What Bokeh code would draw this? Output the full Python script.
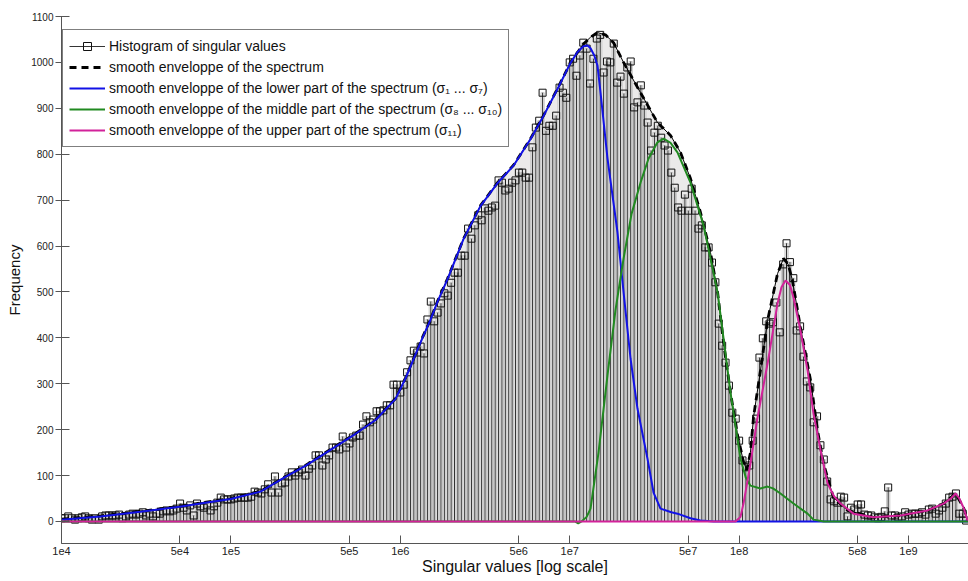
import numpy as np
from bokeh.plotting import figure
from bokeh.models import Range1d, FixedTicker, Legend, LegendItem
from bokeh.embed import file_html
from bokeh.resources import INLINE

# ---------------- data ----------------
# histogram bins: equally spaced in log10, first bin centred on 1e4
bin_first_log10 = 4.0
bins_per_decade = 50
hist_counts = [
    7, 7, 11, 7, 4, 7, 9, 11, 7, 4,
    7, 4, 11, 13, 13, 13, 13, 15, 7, 11,
    15, 17, 15, 17, 20, 13, 17, 11, 17, 17,
    22, 24, 22, 24, 28, 39, 30, 24, 35, 13,
    39, 33, 30, 35, 24, 33, 41, 52, 48, 48,
    48, 50, 52, 52, 52, 52, 54, 65, 63, 61,
    70, 81, 63, 98, 63, 83, 85, 98, 107, 100,
    107, 113, 100, 115, 122, 144, 144, 122, 135, 144,
    161, 161, 157, 185, 161, 170, 183, 187, 187, 211,
    229, 216, 222, 240, 240, 242, 253, 253, 298, 298,
    281, 298, 325, 351, 372, 368, 381, 366, 440, 479,
    436, 455, 475, 497, 492, 520, 542, 542, 579, 579,
    638, 616, 645, 667, 656, 682, 677, 684, 688, 743,
    738, 721, 725, 738, 743, 760, 760, 749, 749, 815,
    858, 873, 934, 851, 862, 862, 884, 945, 934, 923,
    1000, 1008, 971, 1015, 1043, 1030, 954, 1008, 1052, 1060,
    978, 1002, 1000, 1041, 956, 969, 932, 989, 1002, 902,
    913, 950, 906, 869, 808, 847, 862, 836, 819, 808,
    760, 727, 684, 677, 712, 677, 725, 677, 638, 645,
    597, 597, 564, 521, 431, 383, 346, 296, 237, 224,
    176, 133, 118, 122, 176, 224, 357, 399, 436, 431,
    434, 477, 412, 560, 606, 565, 530, 416, 425, 359,
    305, 292, 216, 229, 166, 135, 87, 48, 44, 41,
    54, 52, 11, 30, 26, 37, 37, 15, 13, 13,
    9, 7, 10, 22, 74, 13, 13, 9, 11, 20,
    15, 17, 17, 17, 20, 15, 26, 28, 17, 24,
    30, 39, 52, 54, 61, 17, 17, 2,
]

# smooth envelope of the whole spectrum (x given as log10 of singular value)
env_log10 = [4.0, 4.23, 4.466, 4.697, 4.82, 4.998, 5.175, 5.322, 5.44, 5.588,
             5.736, 5.854, 5.972, 6.031, 6.131, 6.178, 6.22, 6.279, 6.373, 6.473,
             6.574, 6.668, 6.769, 6.845, 6.928, 7.005, 7.081, 7.123, 7.164, 7.211,
             7.259, 7.318, 7.418, 7.518, 7.595, 7.654, 7.713, 7.772, 7.831, 7.873,
             7.908, 7.949, 7.991, 8.026, 8.045, 8.067, 8.085, 8.126, 8.168, 8.227,
             8.262, 8.29, 8.315, 8.362, 8.422, 8.463, 8.498, 8.557, 8.64, 8.793,
             8.953, 9.112, 9.207, 9.278, 9.325, 9.348]
env_vals = [5, 12, 22, 33, 40, 50, 66, 98, 122, 157,
            192, 222, 268, 313, 401, 440, 480, 529, 616, 688,
            738, 776, 834, 884, 943, 1000, 1040, 1055, 1065, 1060,
            1043, 1000, 934, 869, 841, 804, 747, 673, 586, 499,
            390, 281, 187, 130, 112, 150, 227, 329, 438, 540,
            573, 560, 525, 423, 307, 198, 126, 52, 24, 9,
            13, 24, 39, 61, 30, 2]

# lower part of the spectrum (sigma_1 ... sigma_7)
low_log10 = [4.0, 4.23, 4.466, 4.697, 4.82, 4.998, 5.175, 5.322, 5.44, 5.588,
             5.736, 5.854, 5.972, 6.031, 6.131, 6.178, 6.22, 6.279, 6.373, 6.473,
             6.574, 6.668, 6.769, 6.845, 6.928, 7.005, 7.045, 7.081, 7.105, 7.123,
             7.145, 7.164, 7.182, 7.223, 7.282, 7.318, 7.359, 7.4, 7.459, 7.495,
             7.536, 7.6, 7.636, 7.713, 7.772, 7.85, 9.36]
low_vals = [4, 11, 21, 32, 39, 49, 65, 97, 121, 156,
            191, 221, 267, 312, 400, 439, 479, 528, 615, 687,
            737, 775, 833, 883, 942, 999, 1022, 1035, 1037, 1031,
            1015, 993, 934, 791, 630, 499, 355, 246, 137, 63,
            28, 20, 17, 7, 2, 0, 0]

# middle part of the spectrum (sigma_8 ... sigma_10)
mid_log10 = [4.0, 7.03, 7.05, 7.07, 7.1, 7.123, 7.17, 7.223, 7.27, 7.318,
             7.365, 7.418, 7.465, 7.518, 7.554, 7.595, 7.636, 7.713, 7.79, 7.873,
             7.949, 8.008, 8.04, 8.067, 8.126, 8.168, 8.2, 8.244, 8.321, 8.404,
             8.439, 8.5, 9.36]
mid_vals = [0, 0, -4, 0, 10, 28, 150, 318, 460, 573,
            670, 738, 790, 826, 834, 825, 804, 738, 645, 499,
            281, 137, 95, 78, 72, 76, 72, 61, 39, 17,
            4, 0, 0]

# upper part of the spectrum (sigma_11)
up_log10 = [4.0, 7.979, 8.008, 8.026, 8.067, 8.109, 8.168, 8.227, 8.25, 8.274,
            8.3, 8.321, 8.362, 8.404, 8.439, 8.481, 8.522, 8.56, 8.599, 8.675,
            8.793, 8.953, 9.112, 9.207, 9.25, 9.278, 9.3, 9.325, 9.348]
up_vals = [0, 0, 10, 39, 126, 227, 344, 475, 510, 525,
           515, 488, 416, 329, 235, 155, 83, 55, 39, 17,
           9, 13, 24, 39, 50, 61, 50, 30, 2]

x_ticks = [10000, 50000, 100000, 500000, 1000000, 5000000, 10000000,
           50000000, 100000000, 500000000, 1000000000]
x_tick_labels = ["1e4", "5e4", "1e5", "5e5", "1e6", "5e6", "1e7",
                 "5e7", "1e8", "5e8", "1e9"]
y_ticks = [0, 100, 200, 300, 400, 500, 600, 700, 800, 900, 1000, 1100]

legend_labels = [
    "Histogram of singular values",
    "smooth enveloppe of the spectrum",
    "smooth enveloppe of the lower part of the spectrum (\u03c3\u2081 ... \u03c3\u2087)",
    "smooth enveloppe of the middle part of the spectrum (\u03c3\u2088 ... \u03c3\u2081\u2080)",
    "smooth enveloppe of the upper part of the spectrum (\u03c3\u2081\u2081)",
]

# ---------------- derived geometry ----------------
counts = np.array(hist_counts, dtype=float)
n = len(counts)
lg = bin_first_log10 + np.arange(n) / bins_per_decade
half = 0.5 / bins_per_decade
xc = 10 ** lg
xl = 10 ** (lg - half)
xr = 10 ** (lg + half)

env_x = 10 ** np.array(env_log10)
low_x = 10 ** np.array(low_log10)
mid_x = 10 ** np.array(mid_log10)
up_x = 10 ** np.array(up_log10)

FONT = "Liberation Sans"

p = figure(width=968, height=577, x_axis_type="log",
           x_range=Range1d(1e4, 2.26e9), y_range=Range1d(-48, 1100),
           output_backend="svg", toolbar_location=None,
           min_border_left=61, min_border_right=0, min_border_top=16,
           min_border_bottom=30)
p.outline_line_color = None
p.background_fill_color = "white"
p.border_fill_color = "white"
p.xgrid.visible = False
p.ygrid.visible = False

# grey area under the smooth envelope
p.varea(x=env_x, y1=np.zeros(len(env_x)), y2=env_vals, fill_color="#ebeaea")
# histogram bars
p.quad(left=xl, right=xr, bottom=0, top=counts, fill_color="#eaeaea",
       line_color="#b4b4b4", line_width=0.6)
# stems and markers
stem = p.segment(x0=xc, y0=0, x1=xc, y1=counts, line_color="#111111", line_width=0.85)
mk = p.scatter(x=xc, y=counts, marker="square", size=7, fill_color=None,
               line_color="#111111", line_width=1)

# envelope lines
p.line(env_x, env_vals, line_color="black", line_width=1)
env_r = p.line(env_x, env_vals, line_color="black", line_width=2.8, line_dash="7 5")
low_r = p.line(low_x, low_vals, line_color="#1212e6", line_width=2)
mid_r = p.line(mid_x, mid_vals, line_color="#218a21", line_width=2)
up_r = p.line(up_x, up_vals, line_color="#d2229a", line_width=2)

# axes
p.xaxis.ticker = FixedTicker(ticks=x_ticks, minor_ticks=[])
p.xaxis.major_label_overrides = dict(zip(x_ticks, x_tick_labels))
p.yaxis.ticker = FixedTicker(ticks=y_ticks, minor_ticks=[])
for ax in (p.xaxis[0], p.yaxis[0]):
    ax.axis_line_color = "#555555"
    ax.major_tick_line_color = "#555555"
    ax.minor_tick_line_color = None
    ax.major_label_text_font = FONT
    ax.major_label_text_color = "#222222"
    ax.axis_label_text_font = FONT
    ax.axis_label_text_font_style = "normal"
    ax.axis_label_text_color = "#111111"
p.xaxis.major_tick_in = 8
p.xaxis.major_tick_out = 0
p.xaxis.major_label_standoff = 3
p.xaxis.major_label_text_font_size = "11px"
p.xaxis.axis_label = "Singular values [log scale]"
p.xaxis.axis_label_text_font_size = "16px"
p.xaxis.axis_label_standoff = 0
p.yaxis.major_tick_in = 8
p.yaxis.major_tick_out = 6
p.yaxis.major_label_standoff = 2
p.yaxis.major_label_text_font_size = "10px"
p.yaxis.axis_label = "Frequency"
p.yaxis.axis_label_text_font_size = "15px"
p.yaxis.axis_label_standoff = 5

legend = Legend(items=[
    LegendItem(label=legend_labels[0], renderers=[stem, mk]),
    LegendItem(label=legend_labels[1], renderers=[env_r]),
    LegendItem(label=legend_labels[2], renderers=[low_r]),
    LegendItem(label=legend_labels[3], renderers=[mid_r]),
    LegendItem(label=legend_labels[4], renderers=[up_r]),
], location=(1, 396))
legend.label_text_font = FONT
legend.label_text_font_size = "14px"
legend.label_text_color = "#111111"
legend.glyph_width = 36
legend.glyph_height = 20
legend.label_height = 20
legend.label_standoff = 4
legend.spacing = 1
legend.padding = 6
legend.margin = 0
legend.border_line_color = "black"
legend.border_line_width = 1
legend.background_fill_color = "white"
legend.background_fill_alpha = 1
p.add_layout(legend)

open("out.html", "w").write(file_html(p, INLINE))
